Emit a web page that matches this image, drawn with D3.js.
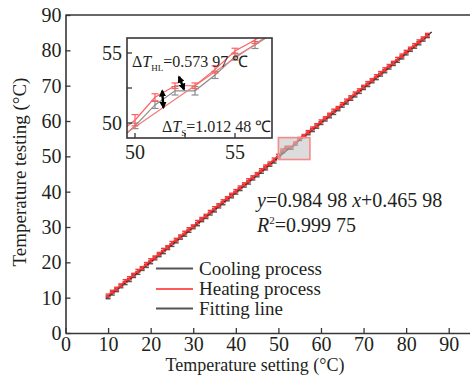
<!DOCTYPE html>
<html><head><meta charset="utf-8">
<script src="https://cdn.jsdelivr.net/npm/d3@7"></script>
<style>
body{margin:0;background:#fff}
svg{display:block}
text{font-family:"Liberation Serif","Times New Roman",serif;fill:#231f20}
</style>
</head><body>
<svg id="c" width="470" height="376"></svg>
<script>
// ---------- data ----------
const setting = [10,11,12,13,14,15,16,17,18,19,20,21,22,23,24,25,26,27,28,29,30,31,32,33,34,35,36,37,38,39,40,41,42,43,44,45,46,47,48,49,50,51,52,53,54,55,56,57,58,59,60,61,62,63,64,65,66,67,68,69,70,71,72,73,74,75,76,77,78,79,80,81,82,83,84,85];
const heating = [10.6,11.7,12.5,13.5,14.7,15.5,16.5,17.6,18.4,19.5,20.6,21.4,22.4,23.5,24.3,25.5,26.4,27.3,28.4,29.4,30.2,31.4,32.3,33.2,34.3,35.3,36.2,37.3,38.2,39.1,40.2,41.2,42.1,43.2,44.1,45.0,46.1,47.1,48.0,49.1,50.2,51.84,52.66,52.66,53.83,55.14,55.93,56.9,57.9,58.8,59.9,60.8,61.8,62.9,63.7,64.8,65.8,66.7,67.8,68.7,69.7,70.7,71.6,72.7,73.6,74.6,75.6,76.5,77.6,78.5,79.6,80.5,81.5,82.5,83.4,84.4];
const cooling = [10.1,11.2,12.1,13.2,14.1,15.0,16.1,17.0,18.1,19.0,20.0,21.1,22.0,22.9,24.0,24.9,25.9,27.0,27.8,28.9,29.9,30.8,31.9,32.8,33.8,34.7,35.8,36.7,37.8,38.7,39.7,40.7,41.7,42.6,43.7,44.6,45.6,46.6,47.6,48.5,49.8,51.29,52.3,52.3,53.43,54.74,55.57,56.5,57.4,58.4,59.4,60.4,61.3,62.3,63.3,64.3,65.2,66.3,67.2,68.2,69.3,70.2,71.2,72.1,73.1,74.1,75.1,76.1,77.0,78.0,79.1,80.1,81.0,82.0,83.0,84.0];
const heatErr = [0.4,0.4,0.45,0.4,0.4,0.45,0.4,0.4,0.4,0.45,0.4,0.4,0.4,0.45,0.4,0.4,0.4,0.45,0.4,0.4,0.4,0.45,0.4,0.4,0.4,0.45,0.4,0.4,0.4,0.45,0.4,0.4,0.4,0.45,0.4,0.4,0.4,0.45,0.4,0.4,0.4,0.25,0.2,0.2,0.25,0.2,0.25,0.4,0.4,0.45,0.4,0.4,0.4,0.45,0.4,0.4,0.4,0.45,0.4,0.4,0.4,0.45,0.4,0.4,0.4,0.45,0.4,0.4,0.4,0.45,0.4,0.4,0.4,0.45,0.4,0.4];
const coolErr = [0.4,0.45,0.4,0.4,0.4,0.45,0.4,0.4,0.4,0.45,0.4,0.4,0.4,0.45,0.4,0.4,0.4,0.45,0.4,0.4,0.4,0.45,0.4,0.4,0.4,0.45,0.4,0.4,0.4,0.45,0.4,0.4,0.4,0.45,0.4,0.4,0.4,0.45,0.4,0.4,0.2,0.25,0.3,0.3,0.25,0.25,0.25,0.4,0.4,0.45,0.4,0.4,0.4,0.45,0.4,0.4,0.4,0.45,0.4,0.4,0.4,0.45,0.4,0.4,0.4,0.45,0.4,0.4,0.4,0.45,0.4,0.4,0.4,0.45,0.4,0.4];
const fitSlope = 0.98498, fitIntercept = 0.46598;
const fitRange = [9.5, 86];
const xTicks = [0,10,20,30,40,50,60,70,80,90];
const yTicks = [0,10,20,30,40,50,60,70,80,90];
const insetXTicks = [50,52.5,55];
const insetYTicks = [50,52.5,55];
const insetLabels = [50,55];
const zoomBox = [50, 57.4, 49.1, 55.3];   // x0,x1,y0,y1 in data units
const hlArrow = [[52.2,53.3],[52.45,52.4]];
const sArrow = [[51.36,52.3],[51.42,51.1]];
const legendLabels = ["Cooling process","Heating process","Fitting line"];

// ---------- setup ----------
const svg = d3.select("#c");
const axisColor = "#3a3536";
const cCool = "#555555", cHeat = "#ff3535", cFit = "#2b2b2b";

const x = d3.scaleLinear().domain([0,95]).range([65.5,470]);
const y = d3.scaleLinear().domain([0,90]).range([333,15]);

const pts = setting.map((s,i)=>({x:s, h:heating[i], c:cooling[i], he:heatErr[i], ce:coolErr[i]}));

// ---------- main axes ----------
const gx = svg.append("g").attr("transform","translate(0,333)")
  .call(d3.axisBottom(x).tickValues(xTicks).tickSizeInner(-5).tickSizeOuter(0).tickPadding(4));
const gy = svg.append("g").attr("transform","translate(65.5,0)")
  .call(d3.axisLeft(y).tickValues(yTicks).tickSizeInner(-5).tickSizeOuter(0).tickPadding(4));
[gx,gy].forEach(g=>{
  g.select(".domain").attr("stroke",axisColor).attr("stroke-width",1.6);
  g.selectAll(".tick line").attr("stroke",axisColor).attr("stroke-width",1.3);
  g.selectAll("text").attr("font-size",20).attr("fill","#231f20");
});
// top frame line
svg.append("line").attr("x1",x(0)).attr("x2",x(95)).attr("y1",y(90)).attr("y2",y(90))
  .attr("stroke",axisColor).attr("stroke-width",1.6);

// titles
svg.append("text").attr("x",255).attr("y",371).attr("text-anchor","middle").attr("font-size",18)
  .text("Temperature setting (°C)");
svg.append("text").attr("transform","translate(26,172) rotate(-90)").attr("text-anchor","middle").attr("font-size",19)
  .text("Temperature testing (°C)");

// ---------- main data ----------
function drawSeries(g, xs, ys, key, errKey, color, cap, lw){
  g.append("path").datum(pts).attr("fill","none").attr("stroke",color).attr("stroke-width",lw)
    .attr("d", d3.line().x(d=>xs(d.x)).y(d=>ys(d[key])));
  const eb = g.append("g").attr("stroke",color).attr("stroke-width",lw);
  pts.forEach(d=>{
    const cx = xs(d.x), y1 = ys(d[key]-d[errKey]), y2 = ys(d[key]+d[errKey]);
    eb.append("line").attr("x1",cx).attr("x2",cx).attr("y1",y1).attr("y2",y2);
    eb.append("line").attr("x1",cx-cap).attr("x2",cx+cap).attr("y1",y1).attr("y2",y1);
    eb.append("line").attr("x1",cx-cap).attr("x2",cx+cap).attr("y1",y2).attr("y2",y2);
  });
}
const gm = svg.append("g");
drawSeries(gm, x, y, "c", "ce", cCool, 2.5, 1.4);
gm.append("line").attr("x1",x(fitRange[0])).attr("x2",x(fitRange[1]))
  .attr("y1",y(fitSlope*fitRange[0]+fitIntercept)).attr("y2",y(fitSlope*fitRange[1]+fitIntercept))
  .attr("stroke",cFit).attr("stroke-width",1.3);
drawSeries(gm, x, y, "h", "he", cHeat, 2.5, 1.4);

// highlight box
svg.append("rect").attr("x",x(zoomBox[0])).attr("y",y(zoomBox[3]))
  .attr("width",x(zoomBox[1])-x(zoomBox[0])).attr("height",y(zoomBox[2])-y(zoomBox[3]))
  .attr("fill","#c4c4c4").attr("fill-opacity",0.6).attr("stroke","#f58a8a").attr("stroke-width",1.6);

// equation
const eq = svg.append("text").attr("x",257).attr("y",207).attr("font-size",20);
eq.append("tspan").attr("font-style","italic").text("y");
eq.append("tspan").text("=0.984 98 ");
eq.append("tspan").attr("font-style","italic").text("x");
eq.append("tspan").text("+0.465 98");
const r2 = svg.append("text").attr("x",257).attr("y",232).attr("font-size",20);
r2.append("tspan").attr("font-style","italic").text("R");
r2.append("tspan").attr("font-size",11).attr("dy",-8).text("2");
r2.append("tspan").attr("dy",8).text("=0.999 75");

// legend
const legColors = [cCool, "#ff5a5a", "#555"];
const legY = [268.5, 289, 308.5];
legendLabels.forEach((t,i)=>{
  svg.append("line").attr("x1",156).attr("x2",193).attr("y1",legY[i]).attr("y2",legY[i])
    .attr("stroke",legColors[i]).attr("stroke-width",2);
  svg.append("text").attr("x",199).attr("y",legY[i]+6).attr("font-size",19).text(t);
});

// ---------- inset ----------
const ix = d3.scaleLinear().domain([49.6,56.85]).range([127,272]);
const iy = d3.scaleLinear().domain([48.93,56.07]).range([138,38]);
svg.append("rect").attr("x",127).attr("y",38).attr("width",145).attr("height",100).attr("fill","#fff");
svg.append("clipPath").attr("id","ic").append("rect").attr("x",127).attr("y",38).attr("width",145).attr("height",100);
const gi = svg.append("g").attr("clip-path","url(#ic)");
drawSeries(gi, ix, iy, "c", "ce", "#8c8c8c", 3.5, 1.2);
gi.append("line").attr("x1",ix(49)).attr("x2",ix(57.5))
  .attr("y1",iy(fitSlope*49+fitIntercept)).attr("y2",iy(fitSlope*57.5+fitIntercept))
  .attr("stroke","#f27a7a").attr("stroke-width",1.2);
drawSeries(gi, ix, iy, "h", "he", "#ff6060", 3.5, 1.2);

svg.append("rect").attr("x",127).attr("y",38).attr("width",145).attr("height",100)
  .attr("fill","none").attr("stroke",axisColor).attr("stroke-width",1.6);
const ig = svg.append("g");
insetXTicks.forEach(v=>{
  ig.append("line").attr("x1",ix(v)).attr("x2",ix(v)).attr("y1",138).attr("y2",133).attr("stroke",axisColor).attr("stroke-width",1.3);
});
insetYTicks.forEach(v=>{
  ig.append("line").attr("x1",127).attr("x2",132).attr("y1",iy(v)).attr("y2",iy(v)).attr("stroke",axisColor).attr("stroke-width",1.3);
});
insetLabels.forEach(v=>{
  ig.append("text").attr("x",ix(v)).attr("y",159).attr("text-anchor","middle").attr("font-size",20).text(v);
  ig.append("text").attr("x",122).attr("y",iy(v)).attr("dy","0.33em").attr("text-anchor","end").attr("font-size",20).text(v);
});

// arrows
const defs = svg.append("defs");
defs.append("marker").attr("id","ah").attr("viewBox","0 0 10 10").attr("refX",8).attr("refY",5)
  .attr("markerWidth",3).attr("markerHeight",3).attr("orient","auto-start-reverse")
  .append("path").attr("d","M0,0L10,5L0,10z").attr("fill","#000");
[hlArrow, sArrow].forEach(a=>{
  svg.append("line").attr("x1",ix(a[0][0])).attr("y1",iy(a[0][1])).attr("x2",ix(a[1][0])).attr("y2",iy(a[1][1]))
    .attr("stroke","#000").attr("stroke-width",2.4)
    .attr("marker-start","url(#ah)").attr("marker-end","url(#ah)");
});

// annotations
const a1 = svg.append("text").attr("x",132).attr("y",67).attr("font-size",16);
a1.append("tspan").text("Δ");
a1.append("tspan").attr("font-style","italic").text("T");
a1.append("tspan").attr("font-size",9).attr("dy",4).text("HL");
a1.append("tspan").attr("dy",-4).text("=0.573 97 ℃");
const a2 = svg.append("text").attr("x",162).attr("y",132).attr("font-size",16);
a2.append("tspan").text("Δ");
a2.append("tspan").attr("font-style","italic").text("T");
a2.append("tspan").attr("font-size",9).attr("dy",4).text("S");
a2.append("tspan").attr("dy",-4).text("=1.012 48 ℃");
</script>
</body></html>
